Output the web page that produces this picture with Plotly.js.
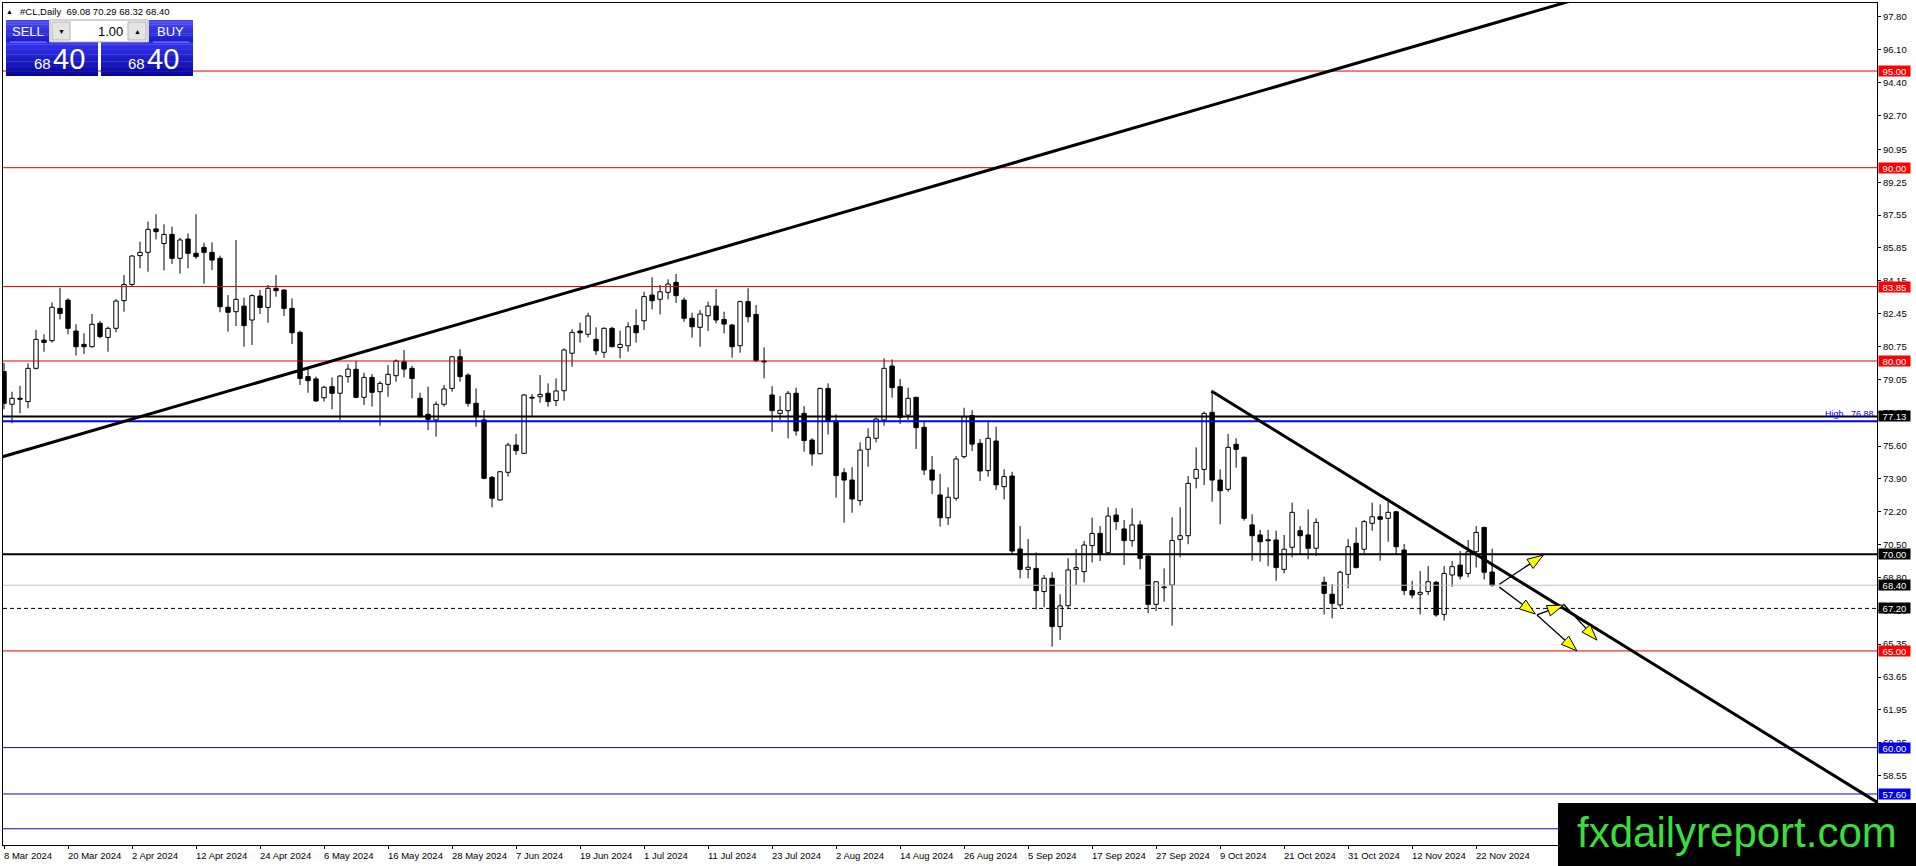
<!DOCTYPE html>
<html><head><meta charset="utf-8">
<script src="https://cdn.plot.ly/plotly-3.0.1.min.js"></script>
<style>html,body{margin:0;padding:0;background:#fff;overflow:hidden}#chart{width:1916px;height:866px}</style>
</head><body><div id="chart"></div>
<script>
// ---------------- DATA ----------------
const symbolName = "#CL,Daily";
const open = [79.45,77.76,78.07,77.90,79.62,81.08,81.05,82.72,83.15,81.55,
80.86,80.74,81.95,81.22,81.69,83.12,83.96,85.45,85.62,86.83,
86.08,86.55,85.31,86.31,85.57,85.88,85.62,85.31,82.78,82.55,
82.84,82.12,83.36,82.77,83.76,83.67,82.72,81.48,79.19,79.07,
78.10,78.67,78.33,79.19,79.57,78.12,79.15,78.41,78.79,79.24,
79.96,79.62,78.07,77.24,76.95,77.76,78.58,80.22,79.27,77.81,
76.95,73.98,72.81,74.24,75.65,75.22,78.12,78.15,78.33,77.95,
78.46,80.40,81.55,81.38,81.12,80.45,81.69,80.70,80.79,81.83,
82.08,83.41,83.19,83.55,84.07,83.15,82.21,81.74,82.34,82.84,
82.15,81.86,80.79,83.07,82.41,80.00,78.24,77.29,77.43,78.33,
77.29,75.91,75.20,78.58,76.89,74.22,73.84,72.78,75.43,76.00,
76.95,79.74,78.67,77.20,78.12,76.57,74.36,73.07,71.89,72.90,
75.05,77.17,75.74,74.33,75.86,73.50,74.05,70.27,69.22,69.27,
68.07,68.76,66.26,67.34,69.22,69.10,70.45,71.08,70.08,72.03,
71.31,70.71,71.52,69.91,67.41,68.27,68.41,70.77,70.96,73.93,
74.39,77.34,73.84,73.36,75.69,75.02,71.52,71.00,70.75,70.74,
69.22,70.36,71.22,71.00,70.31,68.55,67.93,67.38,68.96,70.57,
70.26,71.60,71.94,71.86,72.20,70.22,68.12,67.93,68.07,68.55,
66.89,68.93,69.44,69.01,70.13,71.39,69.08];
const high = [79.90,78.41,78.71,79.88,81.60,81.38,83.03,83.79,83.24,81.90,
81.43,82.43,82.07,81.78,83.21,84.45,85.48,86.17,87.21,87.59,
87.07,86.95,86.38,86.60,87.59,86.12,86.14,85.45,83.41,86.26,
83.28,83.45,83.67,83.93,84.45,83.71,83.24,81.57,79.62,79.19,
78.71,79.15,79.27,79.83,80.00,79.39,79.33,78.96,79.79,80.08,
80.57,79.74,78.36,78.67,77.90,78.76,80.26,80.60,79.36,78.58,
77.46,74.05,74.31,75.77,76.22,78.29,78.29,79.27,78.84,79.10,
80.65,81.64,81.98,82.50,81.74,81.74,81.77,81.57,82.00,82.67,
83.58,84.33,83.93,84.22,84.50,83.29,82.50,82.64,83.07,83.72,
82.55,81.91,83.12,83.76,82.89,80.70,78.70,78.19,78.45,78.62,
77.67,76.00,78.62,78.84,77.24,74.45,74.50,75.79,76.52,77.07,
80.14,80.08,79.07,78.62,78.15,76.89,75.08,74.15,73.46,75.08,
77.58,77.46,75.96,76.89,76.60,74.40,74.27,71.46,70.79,70.10,
68.93,69.07,67.93,69.79,70.27,70.69,71.89,71.46,72.43,72.38,
71.77,72.38,71.74,69.99,68.62,69.27,71.91,72.43,74.05,75.53,
77.38,78.45,74.39,76.22,76.00,75.05,72.07,71.26,71.26,71.22,
71.00,72.67,71.46,72.32,71.86,68.84,68.46,69.15,70.79,71.39,
71.77,72.67,72.58,72.72,72.24,70.53,68.63,69.13,69.39,68.62,
69.39,69.65,70.17,70.74,71.46,71.43,70.29];
const low = [77.50,76.78,77.29,77.55,79.57,80.48,80.95,82.15,81.38,80.28,
80.36,80.69,81.17,80.48,81.48,82.55,83.84,84.79,84.62,86.29,
84.69,85.02,84.52,84.79,85.28,84.00,84.71,82.52,81.52,81.81,
80.74,80.83,82.43,81.98,83.33,82.33,80.88,78.76,78.36,77.90,
77.90,77.50,76.95,78.88,78.07,77.72,77.64,76.65,78.15,78.93,
79.15,78.07,77.07,76.43,76.09,77.64,78.41,78.93,77.64,76.60,
73.88,72.43,72.78,74.02,75.14,75.19,77.12,77.84,77.64,77.67,
77.95,79.70,80.95,81.22,80.31,80.17,80.70,80.14,80.48,80.95,
81.60,82.67,82.41,83.19,83.01,82.03,81.21,80.74,81.55,81.95,
81.43,80.17,80.43,82.00,79.95,79.10,76.34,76.95,76.00,76.14,
75.31,74.58,75.17,76.20,72.93,71.64,72.15,72.52,74.53,75.79,
76.65,78.10,76.74,76.95,75.45,74.10,73.12,71.43,71.52,72.78,
74.96,75.34,73.79,74.02,73.33,72.84,70.00,68.76,68.76,67.15,
67.26,65.22,65.57,67.17,68.41,68.55,69.58,69.65,69.96,71.26,
69.45,70.40,69.22,66.95,67.07,67.55,66.31,69.84,70.52,73.41,
73.58,72.72,71.55,73.24,74.48,71.74,69.67,69.62,69.39,68.63,
69.01,69.84,70.01,69.74,69.91,66.89,66.69,67.24,68.24,69.27,
70.05,71.22,69.67,70.65,69.96,67.89,67.72,66.89,67.89,66.77,
66.57,68.32,68.70,68.81,69.32,68.70,68.32];
const close = [77.81,78.07,78.02,79.62,81.12,80.96,82.78,82.46,81.69,80.74,
80.74,81.90,81.26,81.69,83.10,83.96,85.43,85.62,86.81,86.69,
86.55,85.31,86.26,85.57,85.40,85.62,85.22,82.81,82.52,83.19,
81.83,83.38,82.77,83.76,83.64,82.72,81.46,79.10,78.98,77.93,
78.64,78.33,79.22,79.58,78.12,79.15,78.38,78.84,79.31,80.00,
79.58,79.10,77.12,76.98,77.76,78.55,80.22,79.19,77.81,77.12,
73.93,72.90,74.27,75.65,75.36,78.24,78.08,78.27,77.90,78.45,
80.57,81.48,81.46,82.33,80.53,81.69,80.74,80.86,81.77,81.46,
83.33,83.12,83.58,83.98,83.38,82.21,81.77,82.43,82.84,82.12,
81.91,80.74,83.07,82.29,80.02,79.95,77.43,77.45,78.33,76.38,
75.88,75.19,78.58,76.89,74.07,73.84,72.86,75.39,76.05,77.00,
79.62,78.62,77.08,78.07,76.55,74.36,73.84,71.89,72.95,74.93,
77.12,75.70,74.31,76.00,73.59,74.02,70.17,69.22,69.33,68.12,
68.76,66.26,67.33,69.19,69.31,70.48,71.08,70.05,71.98,71.69,
70.71,71.52,69.79,67.41,68.58,68.31,70.71,70.96,73.67,74.39,
77.29,73.84,73.29,75.53,75.43,71.86,70.96,70.65,70.70,69.31,
70.26,72.17,70.96,70.31,71.65,67.98,67.46,69.07,70.39,69.31,
71.69,71.94,71.81,72.17,70.39,68.12,67.89,68.03,68.58,66.86,
69.01,69.36,68.87,70.13,71.13,69.07,68.40];

const dateTickIndex = [0,8,16,24,32,40,48,56,64,72,80,88,96,104,112,120,128,136,144,152,160,168,176,184];
const dateTickLabels = ["8 Mar 2024","20 Mar 2024","2 Apr 2024","12 Apr 2024","24 Apr 2024","6 May 2024",
"16 May 2024","28 May 2024","7 Jun 2024","19 Jun 2024","1 Jul 2024","11 Jul 2024","23 Jul 2024",
"2 Aug 2024","14 Aug 2024","26 Aug 2024","5 Sep 2024","17 Sep 2024","27 Sep 2024","9 Oct 2024",
"21 Oct 2024","31 Oct 2024","12 Nov 2024","22 Nov 2024"];
const priceTicks = [97.80,96.10,94.40,92.70,90.95,89.25,87.55,85.85,84.15,82.45,80.75,79.05,77.35,
75.60,73.90,72.20,70.50,68.80,67.10,65.35,63.65,61.95,60.25,58.55];

const redLevels = [95.00, 90.00, 83.85, 80.00, 65.00];
const blackLevels = [77.13, 70.00];
const highLevel = 76.88;
const bidLevel = 68.40;
const dashedLevel = 67.20;
const blueLevels = [60.00, 57.60];
const blueLevelUnlabelled = [55.80];

// trend lines (bar index, price)
const riseLineBars = [-1, 200];
const riseLinePrices = [74.95, 99.13];
const fallLineBars = [150.9, 240];
const fallLinePrices = [78.45, 55.67];

// arrows (tail -> head), bar index / price
const arrowTailBars   = [186.9, 186.9, 191.6, 191.6, 194.9];
const arrowTailPrices = [68.45, 68.30, 66.86, 66.86, 67.43];
const arrowHeadBars   = [192.4, 191.4, 194.9, 196.6, 199.1];
const arrowHeadPrices = [69.96, 66.91, 67.37, 65.00, 65.56];

const lotSize = "1.00";
const watermarkText = "fxdailyreport.com";

// ---------------- LAYOUT GEOMETRY ----------------
const W = 1916, H = 866;
const M = {l:3, r:39, t:3, b:21};
const pw = W - M.l - M.r, ph = H - M.t - M.b;
const xr = [-0.125, 234.1], yr = [54.96, 98.52];
const sx = pw/(xr[1]-xr[0]), sy = ph/(yr[1]-yr[0]);
const FONT = "Liberation Sans, Arial, sans-serif";
const PX = px => (px - M.l)/pw;
const PY = py => 1 - (py - M.t)/ph;

const idx = open.map((_, i) => i);
const bodyBase = open.map((o, i) => Math.min(o, close[i]));
const bodyLen = open.map((o, i) => Math.max(Math.abs(close[i] - o), 0.03));
const bodyColor = open.map((o, i) => close[i] >= o ? '#ffffff' : '#000000');
const wx = [], wy = [];
idx.forEach(i => {
  const top = Math.max(open[i], close[i]), bot = Math.min(open[i], close[i]);
  wx.push(i, i, null, i, i, null);
  wy.push(top, high[i], null, low[i], bot, null);
});

const traces = [
  {type:'scatter', mode:'lines', x:wx, y:wy, line:{color:'#000', width:1}, hoverinfo:'skip', connectgaps:false},
  {type:'bar', x:idx, y:bodyLen, base:bodyBase, width:0.55,
   marker:{color:bodyColor, line:{color:'#000', width:1}}, hoverinfo:'skip'}
];

const shapes = [];
const annotations = [];
function hline(p, color, width, dash){
  shapes.push({type:'line', xref:'paper', x0:0, x1:1, yref:'y', y0:p, y1:p,
    line:{color:color, width:width, dash:dash||'solid'}, layer:'above'});
}
redLevels.forEach(p => hline(p, '#e00000', 1));
hline(bidLevel, '#c0c0c0', 1);
hline(dashedLevel, '#000000', 1, '4px,3px');
blueLevels.concat(blueLevelUnlabelled).forEach(p => hline(p, '#0c0ca8', 1));
hline(highLevel, '#0000ff', 2);
blackLevels.forEach(p => hline(p, '#000000', 2));

// trend lines
shapes.push({type:'line', xref:'x', yref:'y', x0:riseLineBars[0], x1:riseLineBars[1], y0:riseLinePrices[0], y1:riseLinePrices[1], line:{color:'#000', width:3}, layer:'above'});
shapes.push({type:'line', xref:'x', yref:'y', x0:fallLineBars[0], x1:fallLineBars[1], y0:fallLinePrices[0], y1:fallLinePrices[1], line:{color:'#000', width:3}, layer:'above'});

// arrows
function toPx(b,p){ return [(b-xr[0])*sx, (yr[1]-p)*sy]; }
function toData(X,Y){ return [X/sx + xr[0], yr[1] - Y/sy]; }
arrowTailBars.forEach((tb, k) => {
  const T = toPx(tb, arrowTailPrices[k]);
  const Hh = toPx(arrowHeadBars[k], arrowHeadPrices[k]);
  const dx = Hh[0]-T[0], dy = Hh[1]-T[1], len = Math.hypot(dx,dy);
  const ux = dx/len, uy = dy/len, nx = -uy, ny = ux;
  const L = 16, Wd = 5.5;
  const B = [Hh[0]-L*ux, Hh[1]-L*uy];
  const c1 = toData(B[0]+Wd*nx, B[1]+Wd*ny), c2 = toData(B[0]-Wd*nx, B[1]-Wd*ny);
  const tip = [arrowHeadBars[k], arrowHeadPrices[k]];
  const bD = toData(B[0], B[1]);
  shapes.push({type:'line', xref:'x', yref:'y', x0:tb, y0:arrowTailPrices[k], x1:bD[0], y1:bD[1], line:{color:'#000', width:1.3}, layer:'above'});
  shapes.push({type:'path', xref:'x', yref:'y', path:`M${tip[0]},${tip[1]} L${c1[0]},${c1[1]} L${c2[0]},${c2[1]} Z`,
    fillcolor:'#ffff00', line:{color:'#000', width:1}, layer:'above'});
});

// ---------------- one-click trading panel ----------------
function rectPx(x0,y0,x1,y1,fill,line){
  shapes.push({type:'rect', xref:'paper', yref:'paper', x0:PX(x0), x1:PX(x1), y0:PY(y1), y1:PY(y0),
    fillcolor:fill, line: line || {width:0}, layer:'above'});
}
function gradRect(x0,y0,x1,y1,c0,c1,n){
  for (let k=0;k<n;k++){
    const t = n===1?0:k/(n-1);
    const c = c0.map((v,j)=>Math.round(v+(c1[j]-v)*t));
    const ya = y0 + (y1-y0)*k/n, yb = y0 + (y1-y0)*(k+1)/n + 0.4;
    rectPx(x0, ya, x1, Math.min(yb,y1), `rgb(${c[0]},${c[1]},${c[2]})`);
  }
}
function textPx(x,y,text,size,color,anchor){
  annotations.push({xref:'paper', yref:'paper', x:PX(x), y:PY(y), text:text, showarrow:false,
    xanchor:anchor||'center', yanchor:'middle', font:{family:FONT, size:size, color:color}});
}
// top buttons
gradRect(6,20,49,42,[72,72,245],[28,28,205],10);
gradRect(149,20,193,42,[72,72,245],[28,28,205],10);
// bottom price blocks
gradRect(6,42,98,76,[52,52,238],[6,6,160],14);
gradRect(101,42,193,76,[52,52,238],[6,6,160],14);
// separators under SELL/BUY
rectPx(10,41.5,46,42.5,'#8c8cff');
rectPx(153,41.5,189,42.5,'#8c8cff');
// spinner
rectPx(50,20,148,42,'#ffffff',{color:'#a8a8a8', width:1});
rectPx(52,22,70,40,'#e4e4e4',{color:'#b4b4b4', width:1});
rectPx(128,22,146,40,'#e4e4e4',{color:'#b4b4b4', width:1});
textPx(61,31,'▼',7,'#000');
textPx(137,31,'▲',7,'#000');
textPx(125,31,lotSize,13,'#000','right');
textPx(28,31,'SELL',13,'#fff');
textPx(170,31,'BUY',13,'#fff');
const lastClose = close[close.length-1];
const bigPart = Math.floor(lastClose).toString();
const smallPart = lastClose.toFixed(2).split('.')[1];
textPx(42,63,bigPart,15,'#fff');
textPx(69,59,smallPart,29,'#fff');
textPx(136,63,bigPart,15,'#fff');
textPx(163,59,smallPart,29,'#fff');
// header
const n = open.length-1;
textPx(9,11,'▲',7,'#000');
textPx(18,11,`${symbolName}  ${open[n].toFixed(2)} ${high[n].toFixed(2)} ${low[n].toFixed(2)} ${close[n].toFixed(2)}`,9.5,'#000','left');

// ---------------- price label boxes ----------------
function priceBox(p,bg){
  annotations.push({xref:'paper', x:1, xanchor:'left', xshift:1, yref:'y', y:p, yanchor:'middle',
    text:p.toFixed(2), showarrow:false, bgcolor:bg, width:31, height:10, borderpad:0, align:'center',
    font:{family:FONT, size:9.5, color:'#fff'}});
}
redLevels.forEach(p => priceBox(p,'#ff0000'));
blackLevels.forEach(p => priceBox(p,'#000000'));
priceBox(bidLevel,'#000000');
priceBox(dashedLevel,'#000000');
blueLevels.forEach(p => priceBox(p,'#0000e8'));
annotations.push({xref:'paper', x:1, xanchor:'right', xshift:-1, yref:'y', y:highLevel, yanchor:'bottom', yshift:0,
  text:'High\u00a0\u00a0\u00a0' + highLevel.toFixed(2), showarrow:false, font:{family:FONT, size:9, color:'#0000ff'}});

// date labels (left aligned at tick)
dateTickIndex.forEach((ix,k) => {
  annotations.push({xref:'x', x:ix, xanchor:'left', xshift:-2, yref:'paper', y:0, yanchor:'top', yshift:-3,
    text:dateTickLabels[k], showarrow:false, font:{family:FONT, size:9.5, color:'#000'}});
});

// watermark
rectPx(1558,803,1916,866,'#000000');
textPx(1737,832,watermarkText,42,'#3ade3a');

const layout = {
  width:W, height:H, margin:{l:M.l, r:M.r, t:M.t, b:M.b, pad:0},
  paper_bgcolor:'#ffffff', plot_bgcolor:'#ffffff', showlegend:false, dragmode:false,
  xaxis:{range:xr, type:'linear', showgrid:false, zeroline:false, showline:true, mirror:true, linecolor:'#000', linewidth:1,
    tickmode:'array', tickvals:dateTickIndex, ticks:'outside', ticklen:3, tickcolor:'#000', showticklabels:false, fixedrange:true},
  yaxis:{range:yr, side:'right', showgrid:false, zeroline:false, showline:true, mirror:true, linecolor:'#000', linewidth:1,
    tickmode:'array', tickvals:priceTicks, ticktext:priceTicks.map(v=>v.toFixed(2)), ticks:'outside', ticklen:3, tickcolor:'#000',
    tickfont:{family:FONT, size:9.5, color:'#000'}, fixedrange:true},
  shapes:shapes, annotations:annotations
};
Plotly.newPlot('chart', traces, layout, {staticPlot:true, displayModeBar:false});
</script>
</body></html>
